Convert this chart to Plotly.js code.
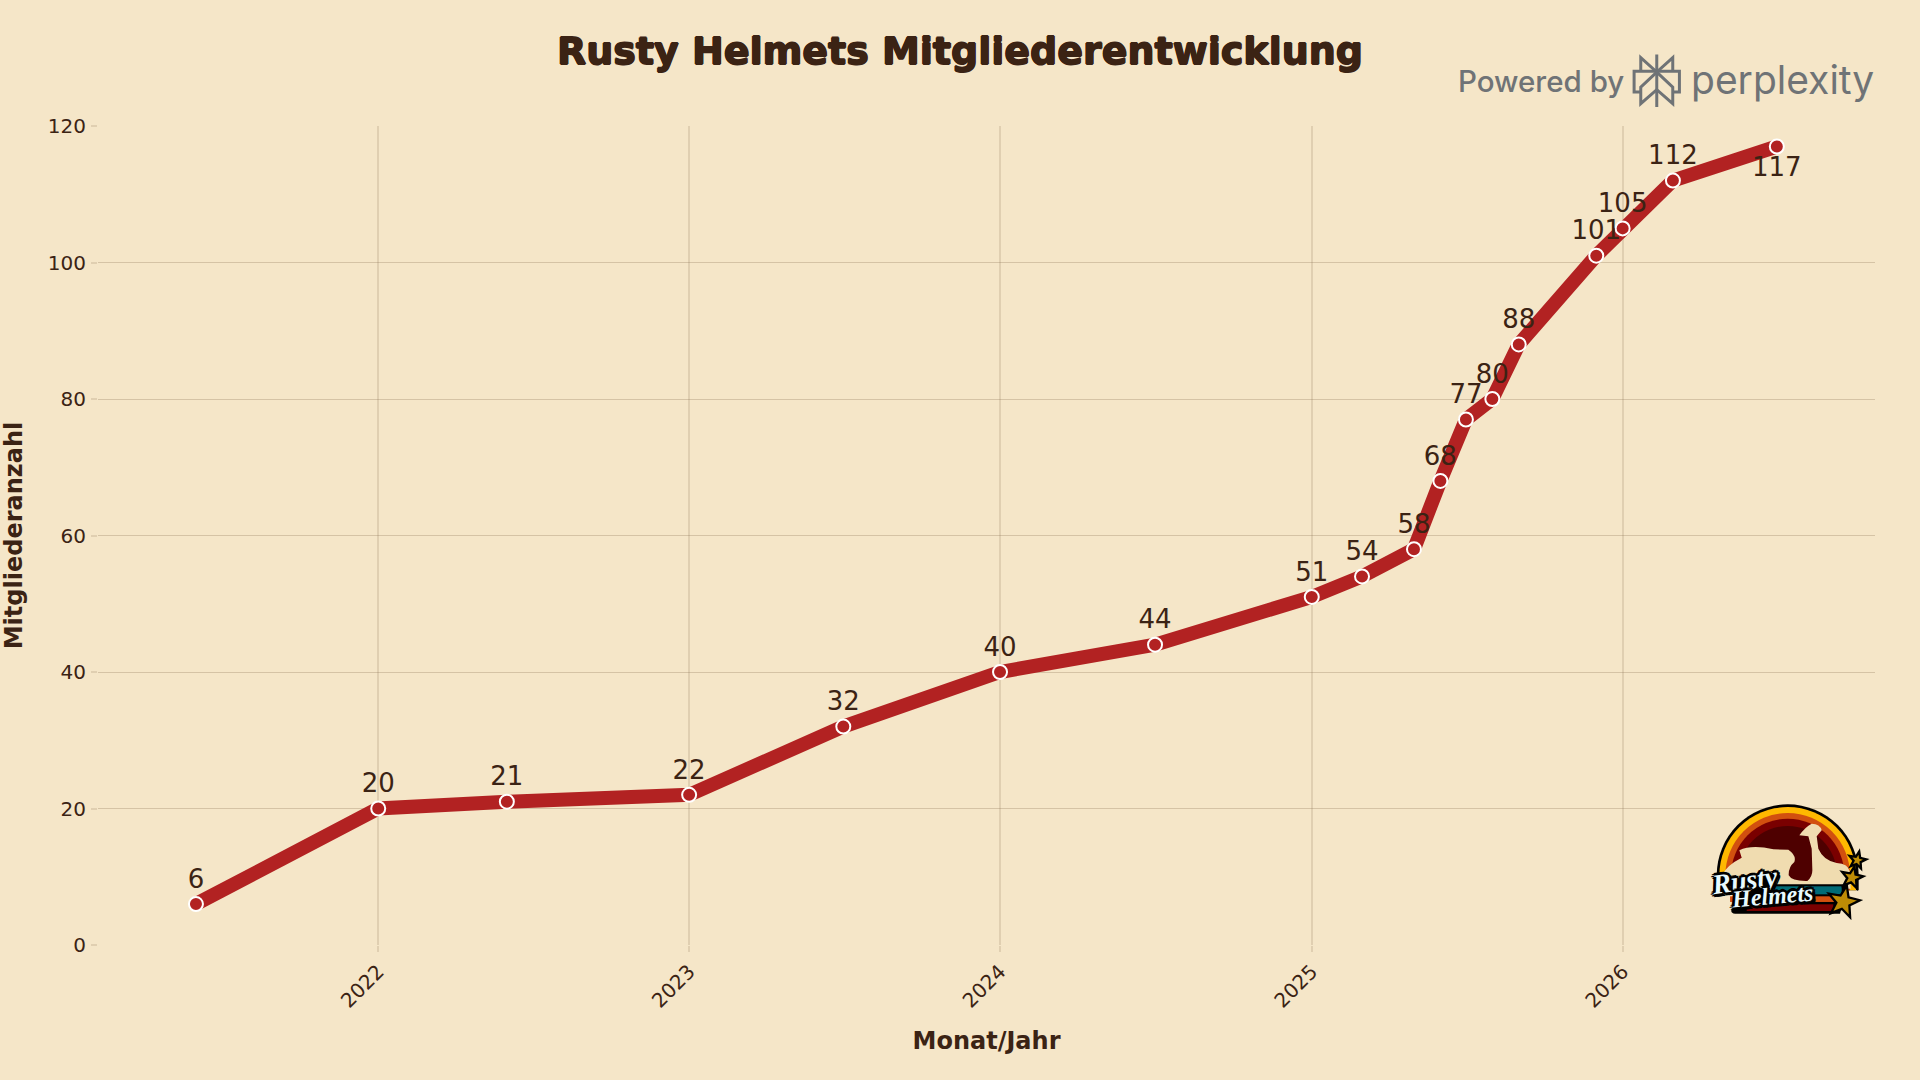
<!DOCTYPE html>
<html>
<head>
<meta charset="utf-8">
<script src="https://cdn.plot.ly/plotly-3.0.1.min.js"></script>
<style>html,body{margin:0;padding:0;background:#F5E6C8}#chart{width:1920px;height:1080px}</style>
</head>
<body>
<div id="chart"></div>
<script>
const dates = ['2021-06-01','2022-01-01','2022-06-01','2023-01-01','2023-07-01','2024-01-01','2024-07-01','2025-01-01','2025-03-01','2025-05-01','2025-06-01','2025-07-01','2025-08-01','2025-09-01','2025-12-01','2026-01-01','2026-03-01','2026-07-01'];
const members = [6,20,21,22,32,40,44,51,54,58,68,77,80,88,101,105,112,117];
const yearTicks = ['2022-01-01','2023-01-01','2024-01-01','2025-01-01','2026-01-01'];
const yearLabels = ['2022','2023','2024','2025','2026'];
const memberTicks = [0,20,40,60,80,100,120];

const W = 1920, H = 1080;
const M = {l:97.5, r:45, t:125.6, b:135.3};
const px = v => (v - M.l) / (W - M.l - M.r);
const py = v => 1 - (v - M.t) / (H - M.t - M.b);
const svgUri = s => 'data:image/svg+xml;charset=utf-8,' + encodeURIComponent(s);

const TEXT = '#3B2314', GREY = '#6F7376';

const star = (cx, cy, r, rot) => {
  let p = [];
  for (let i = 0; i < 10; i++) {
    const rr = i % 2 ? r * 0.42 : r;
    const a = (-90 + rot + i * 36) * Math.PI / 180;
    p.push((cx + rr * Math.cos(a)).toFixed(1) + ',' + (cy + rr * Math.sin(a)).toFixed(1));
  }
  return p.join(' ');
};
const arch = (r, fill) => `<path d="M${323 - r} 330 V285 A${r} ${r} 0 0 1 ${323 + r} 285 V330 Z" fill="${fill}"/>`;

const logoSvg = `<svg xmlns="http://www.w3.org/2000/svg" width="720" height="480" viewBox="0 0 720 480">
${arch(213, '#000')}${arch(205, '#FFB800')}${arch(187, '#D2500F')}${arch(170, '#7A0000')}${arch(148, '#4E0000')}
<path d="M128 282 Q140 255 185 232 L178 210 Q215 192 280 207 L325 208 Q350 225 343 245 Q325 260 326 285 Q335 303 382 302 Q397 290 397 270 L395 205 L385 168 L358 165 Q375 140 395 130 Q420 130 425 150 L410 168 L415 205 Q430 240 470 248 Q505 250 510 275 L512 325 L135 325 Z" fill="#F0DCB0"/>
<path d="M200 312 H505 L480 400 H165 Q150 400 155 385 Z" fill="#000"/>
<rect x="270" y="318" width="215" height="24" fill="#006B76"/>
<rect x="150" y="348" width="320" height="17" fill="#D2500F"/>
<rect x="200" y="372" width="260" height="20" fill="#7A0000"/>
<g fill="#BE8C05" stroke="#000" stroke-width="7" stroke-linejoin="miter">
<polygon points="${star(532, 240, 27, 12)}"/>
<polygon points="${star(516, 292, 34, 12)}"/>
<polygon points="${star(490, 365, 50, 12)}"/>
</g>
</svg>`;

const markSvg = `<svg xmlns="http://www.w3.org/2000/svg" width="150" height="168" viewBox="695 97 150 168">
<g fill="none" stroke="${GREY}" stroke-width="9" stroke-linejoin="miter">
<path d="M770 102 V260"/>
<path d="M722 215 H702 V153 H838 V215 H818"/>
<path d="M722 150 V112 L770 155 L818 112 V150"/>
<path d="M770 155 L722 200 V250 L770 208 L818 250 V200 Z"/>
</g></svg>`;

const logoTextShadow = '3px 0 0 #000, -3px 0 0 #000, 0 3px 0 #000, 0 -3px 0 #000, 2px 2px 0 #000, -2px -2px 0 #000, 2px -2px 0 #000, -2px 2px 0 #000, 3px 3px 0 #000, -1px 1px 0 #35B4DC';

const trace = {
  x: dates, y: members, type: 'scatter', mode: 'lines+markers+text',
  text: members.map(String),
  textposition: members.map((v, i) => i === members.length - 1 ? 'bottom center' : 'top center'),
  textfont: {family: 'DejaVu Sans', size: 26, color: TEXT},
  line: {color: '#B22222', width: 14},
  marker: {color: '#B22222', size: 14, line: {color: '#FFFFFF', width: 2}},
  cliponaxis: false, hoverinfo: 'skip'
};

const layout = {
  width: W, height: H, margin: M, showlegend: false,
  paper_bgcolor: '#F5E6C8', plot_bgcolor: '#F5E6C8',
  font: {family: 'DejaVu Sans', color: TEXT},
  title: {text: 'Rusty Helmets Mitgliederentwicklung', x: 0.5, xanchor: 'center', y: 1 - 51 / H, yanchor: 'middle',
          font: {family: 'DejaVu Sans', size: 38, weight: 700, color: TEXT, shadow: '0.8px 0 0 #3B2314, -0.8px 0 0 #3B2314, 0 0.8px 0 #3B2314, 0 -0.8px 0 #3B2314'}},
  xaxis: {
    type: 'date', range: ['2021-02-06', '2026-10-24 06:00'],
    tickmode: 'array', tickvals: yearTicks, ticktext: yearLabels, tickangle: -45,
    tickfont: {family: 'DejaVu Sans', size: 20, color: TEXT},
    ticks: 'outside', ticklen: 6, tickwidth: 2, tickcolor: 'rgba(139,115,85,0.2)',
    showgrid: true, gridcolor: 'rgba(139,115,85,0.2)', gridwidth: 2, zeroline: false, showline: false,
    title: {text: 'Monat/Jahr', font: {family: 'DejaVu Sans', size: 24, weight: 700, color: TEXT}, standoff: 20}
  },
  yaxis: {
    range: [0, 120], tickmode: 'array', tickvals: memberTicks,
    tickfont: {family: 'DejaVu Sans', size: 20, color: TEXT},
    ticks: 'outside', ticklen: 6, tickwidth: 2, tickcolor: 'rgba(139,115,85,0.2)', ticklabelstandoff: 1,
    showgrid: true, gridcolor: 'rgba(139,115,85,0.3)', gridwidth: 1, zeroline: false, showline: false,
    title: {text: 'Mitgliederanzahl', font: {family: 'DejaVu Sans', size: 24, weight: 700, color: TEXT}, standoff: 22}
  },
  images: [
    {source: svgUri(logoSvg), xref: 'paper', yref: 'paper', x: px(1680), y: py(780), sizex: 240 / (W - M.l - M.r), sizey: 160 / (H - M.t - M.b), xanchor: 'left', yanchor: 'top', sizing: 'stretch', layer: 'above'},
    {source: svgUri(markSvg), xref: 'paper', yref: 'paper', x: px(1631.7), y: py(52.3), sizex: 50 / (W - M.l - M.r), sizey: 56 / (H - M.t - M.b), xanchor: 'left', yanchor: 'top', sizing: 'stretch', layer: 'above'}
  ],
  annotations: [
    {text: 'Powered by', xref: 'paper', yref: 'paper', x: px(1540.5), y: py(81), xanchor: 'center', yanchor: 'middle', showarrow: false,
     font: {family: 'Inter', size: 29.5, weight: 500, color: GREY}},
    {text: 'perplexity', xref: 'paper', yref: 'paper', x: px(1782), y: py(79), xanchor: 'center', yanchor: 'middle', showarrow: false,
     font: {family: 'Inter', size: 39, weight: 400, color: GREY}},
    {text: 'Rusty', xref: 'paper', yref: 'paper', x: px(1744), y: py(880), xanchor: 'center', yanchor: 'middle', showarrow: false, textangle: -8,
     font: {family: 'Liberation Serif', size: 28, weight: 700, style: 'italic', color: '#E8FAFF', shadow: logoTextShadow}},
    {text: 'Helmets', xref: 'paper', yref: 'paper', x: px(1772), y: py(896), xanchor: 'center', yanchor: 'middle', showarrow: false, textangle: -5,
     font: {family: 'Liberation Serif', size: 24, weight: 700, style: 'italic', color: '#E8FAFF', shadow: logoTextShadow}}
  ]
};

Plotly.newPlot('chart', [trace], layout, {displayModeBar: false, staticPlot: true});
</script>
</body>
</html>
